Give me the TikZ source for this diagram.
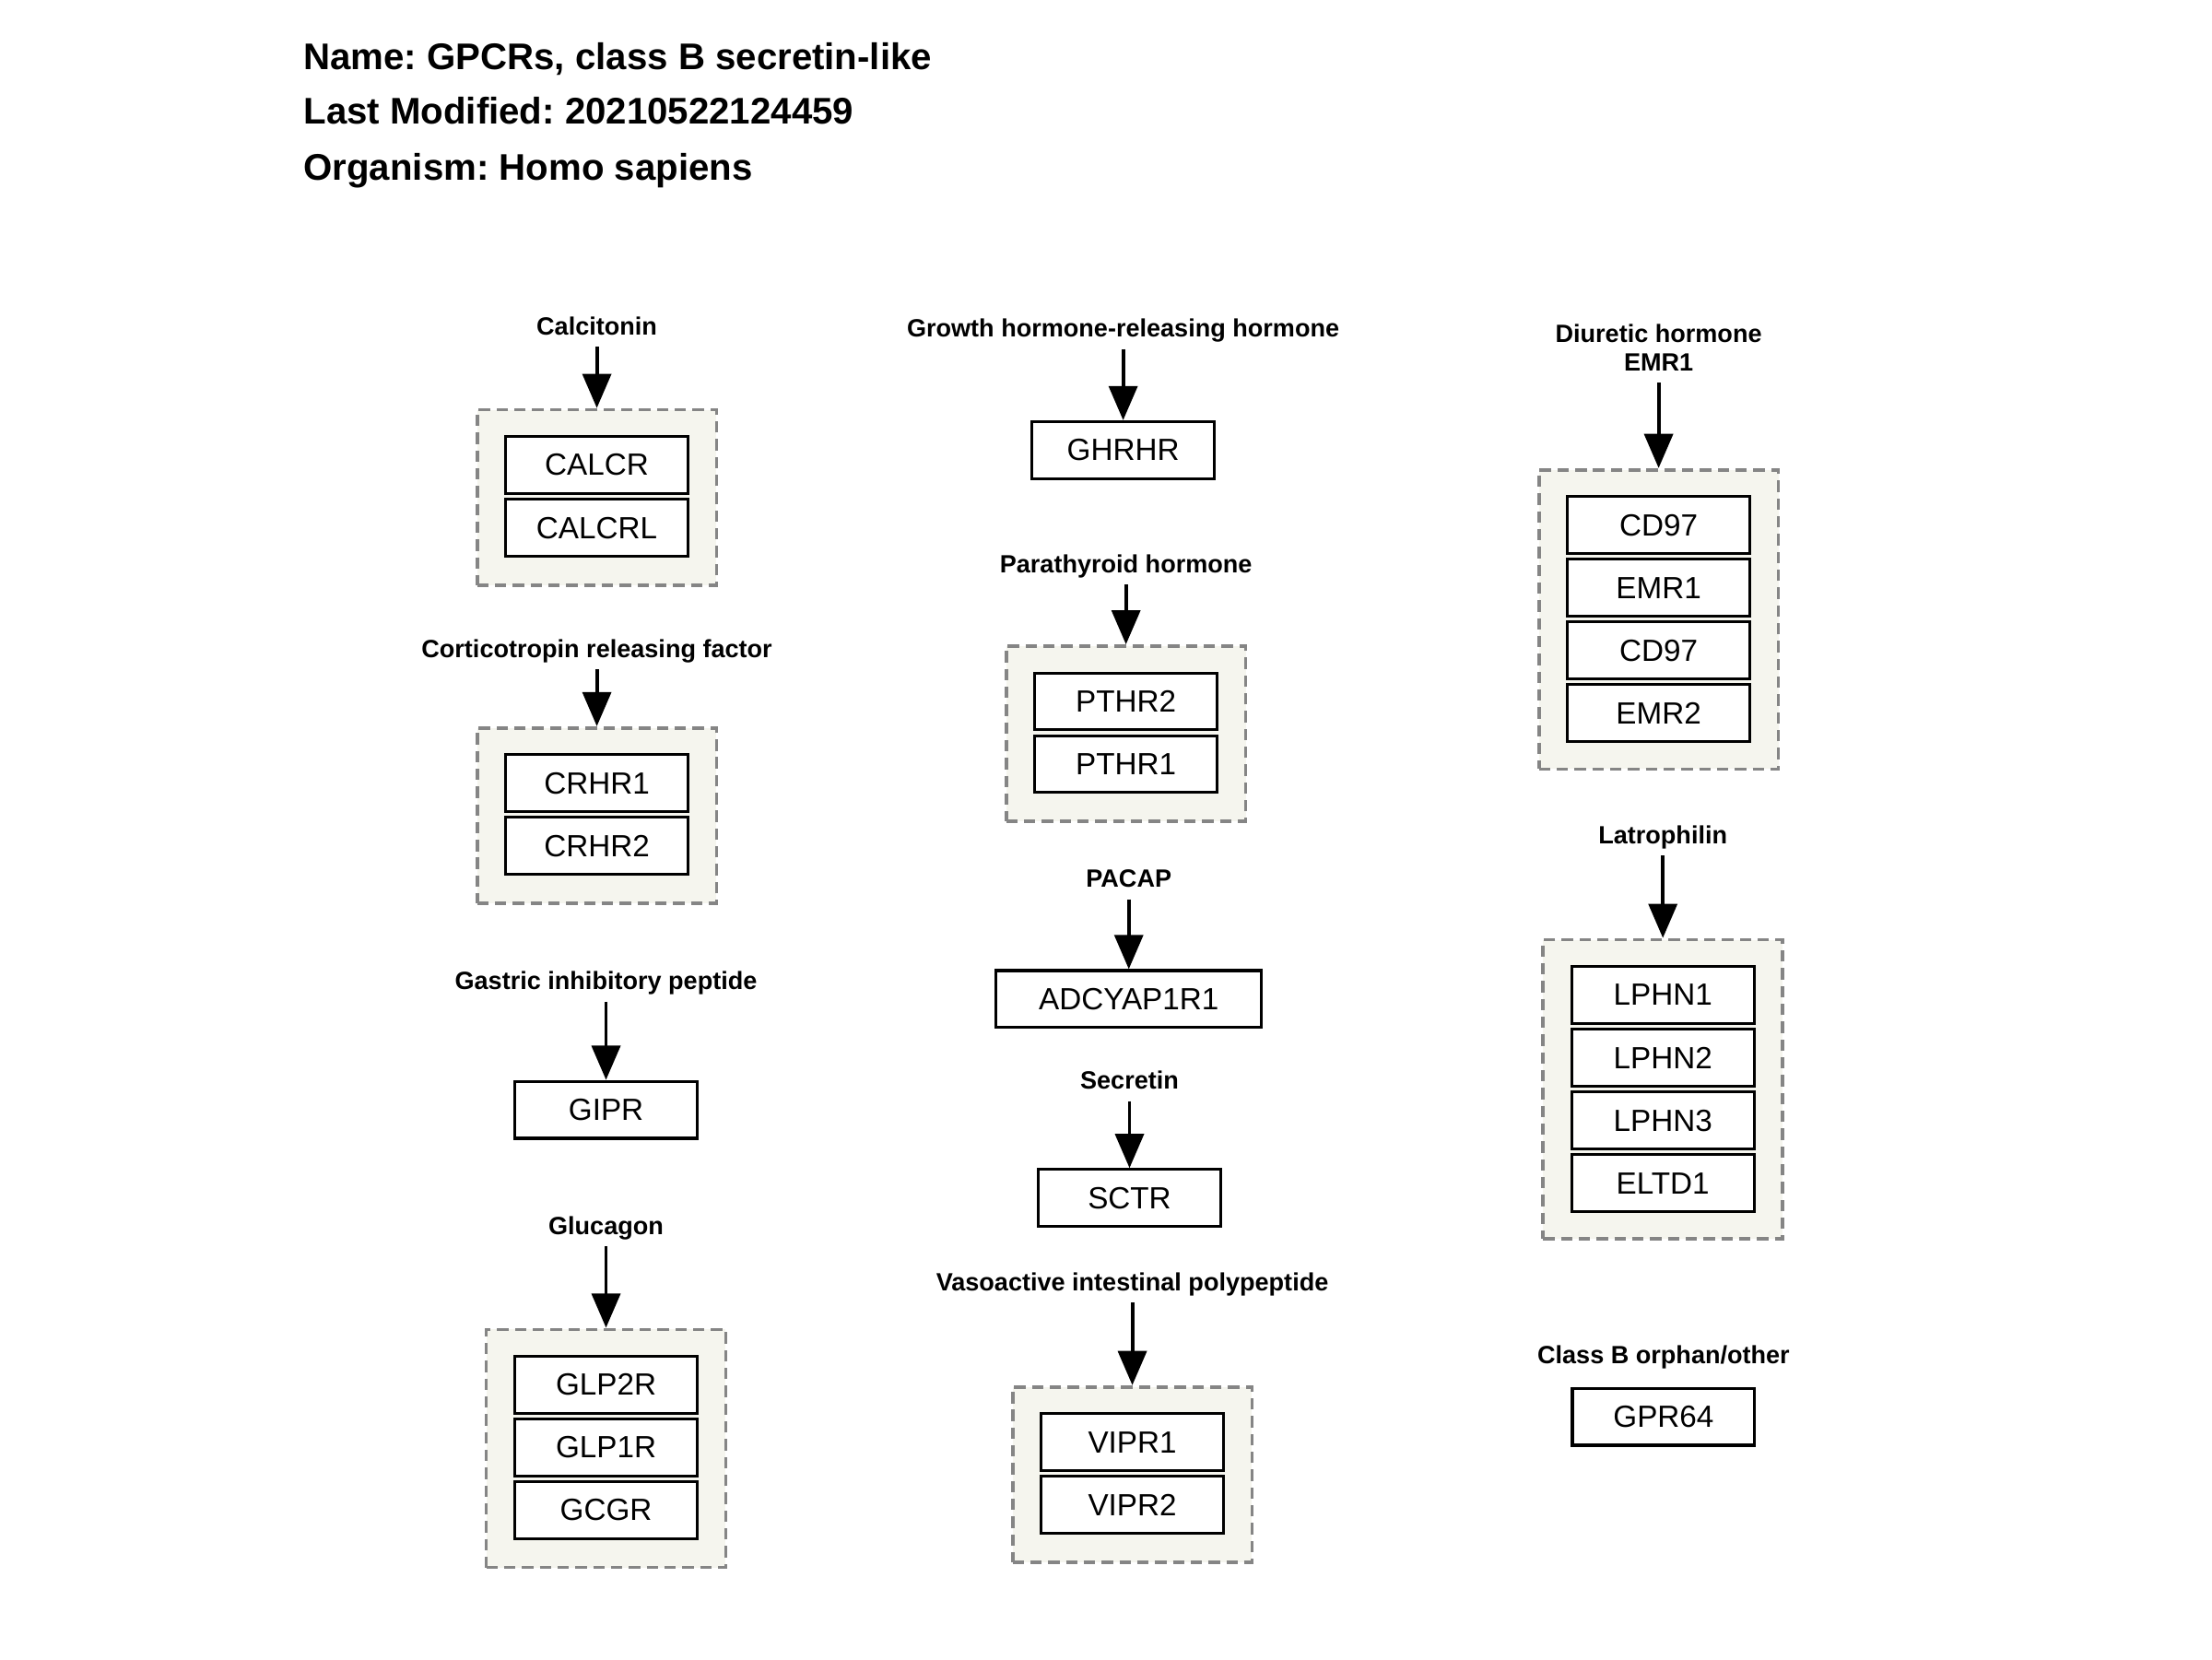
\documentclass[tikz,border=0pt]{standalone}
\usepackage{fontspec}
\setmainfont{Liberation Sans}
\frenchspacing
\usetikzlibrary{positioning,arrows.meta}
\definecolor{grpfill}{HTML}{F5F5EE}
\definecolor{grpline}{HTML}{858585}

\begin{document}
\begin{tikzpicture}[
	x=0.99pt, y=-0.99pt,
	title/.style={anchor=base west, inner sep=0pt, font=\fontsize{26}{30}\selectfont\bfseries},
	lbl/.style={font=\fontsize{17.5}{20}\selectfont\bfseries, align=center, text depth=2pt, inner xsep=2pt, inner ysep=6pt},
	gene/.style={draw, line width=2pt, fill=white, minimum width=128pt, minimum height=40pt, inner sep=0pt, font=\fontsize{21.5}{24}\selectfont},
	grp/.style={draw=grpline, line width=2.4pt, dash pattern=on 8pt off 4.5pt, fill=grpfill, minimum width=168pt, minimum height=#1},
	arr/.style={-{Triangle[length=24pt,width=20pt]}, line width=2.5pt}
	]
	\useasboundingbox (0,0) rectangle (1567.7,1175.8);
	
	% header
	\node[title] (name) at (215,49) {Name: GPCRs, class B secretin-like};
	\node[title] (modified) at (215,88) {Last Modified: 20210522124459};
	\node[title] (organism) at (215,128) {Organism: Homo sapiens};
	
	% left column
	\node[grp=123pt] (calcGrp) at (423,352.5) {};
	\node[gene, below=19pt of calcGrp.north] (calcr) {CALCR};
	\node[gene, below=2pt of calcr] (calcrl) {CALCRL};
	\node[lbl, above=43pt of calcGrp] (calcLbl) {Calcitonin};
	\draw[arr] (calcLbl) -- (calcGrp);
	
	\node[grp=123pt] (crhGrp) at (423,578) {};
	\node[gene, below=19pt of crhGrp.north] (crhr1) {CRHR1};
	\node[gene, below=2pt of crhr1] (crhr2) {CRHR2};
	\node[lbl, above=40pt of crhGrp] (crhLbl) {Corticotropin releasing factor};
	\draw[arr] (crhLbl) -- (crhGrp);
	
	\node[gene] (gipr) at (429.5,786.5) {GIPR};
	\node[lbl, above=55pt of gipr] (gipLbl) {Gastric inhibitory peptide};
	\draw[arr] (gipLbl) -- (gipr);
	
	\node[grp=167pt] (gcgGrp) at (429.5,1026.5) {};
	\node[gene, below=19pt of gcgGrp.north] (glp2r) {GLP2R};
	\node[gene, below=2pt of glp2r] (glp1r) {GLP1R};
	\node[gene, below=2pt of glp1r] (gcgr) {GCGR};
	\node[lbl, above=57pt of gcgGrp] (gcgLbl) {Glucagon};
	\draw[arr] (gcgLbl) -- (gcgGrp);
	
	% middle column
	\node[gene] (ghrhr) at (796,319) {GHRHR};
	\node[lbl, above=50pt of ghrhr] (ghrhLbl) {Growth hormone-releasing hormone};
	\draw[arr] (ghrhLbl) -- (ghrhr);
	
	\node[grp=123pt] (pthGrp) at (798,520) {};
	\node[gene, below=19pt of pthGrp.north] (pthr2) {PTHR2};
	\node[gene, below=2pt of pthr2] (pthr1) {PTHR1};
	\node[lbl, above=42pt of pthGrp] (pthLbl) {Parathyroid hormone};
	\draw[arr] (pthLbl) -- (pthGrp);
	
	\node[gene, minimum width=186pt] (adcyap1r1) at (800,708) {ADCYAP1R1};
	\node[lbl, above=49pt of adcyap1r1] (pacapLbl) {PACAP};
	\draw[arr] (pacapLbl) -- (adcyap1r1);
	
	\node[gene] (sctr) at (800.5,849) {SCTR};
	\node[lbl, above=47pt of sctr] (sctLbl) {Secretin};
	\draw[arr] (sctLbl) -- (sctr);
	
	\node[grp=123pt] (vipGrp) at (802.5,1045) {};
	\node[gene, below=19pt of vipGrp.north] (vipr1) {VIPR1};
	\node[gene, below=2pt of vipr1] (vipr2) {VIPR2};
	\node[lbl, above=58pt of vipGrp] (vipLbl) {Vasoactive intestinal polypeptide};
	\draw[arr] (vipLbl) -- (vipGrp);
	
	% right column
	\node[grp=210pt] (emrGrp) at (1175.5,439) {};
	\node[gene, below=19pt of emrGrp.north] (cd97a) {CD97};
	\node[gene, below=2pt of cd97a] (emr1) {EMR1};
	\node[gene, below=2pt of emr1] (cd97b) {CD97};
	\node[gene, below=2pt of cd97b] (emr2) {EMR2};
	\node[lbl, above=60pt of emrGrp] (emrLbl) {Diuretic hormone\\EMR1};
	\draw[arr] (emrLbl) -- (emrGrp);
	
	\node[grp=210pt] (lphnGrp) at (1178.5,772) {};
	\node[gene, below=19pt of lphnGrp.north] (lphn1) {LPHN1};
	\node[gene, below=2pt of lphn1] (lphn2) {LPHN2};
	\node[gene, below=2pt of lphn2] (lphn3) {LPHN3};
	\node[gene, below=2pt of lphn3] (eltd1) {ELTD1};
	\node[lbl, above=58pt of lphnGrp] (lphnLbl) {Latrophilin};
	\draw[arr] (lphnLbl) -- (lphnGrp);
	
	\node[gene] (gpr64) at (1179,1004) {GPR64};
	\node[lbl, above=8pt of gpr64] (orphanLbl) {Class B orphan/other};
\end{tikzpicture}
\end{document}
